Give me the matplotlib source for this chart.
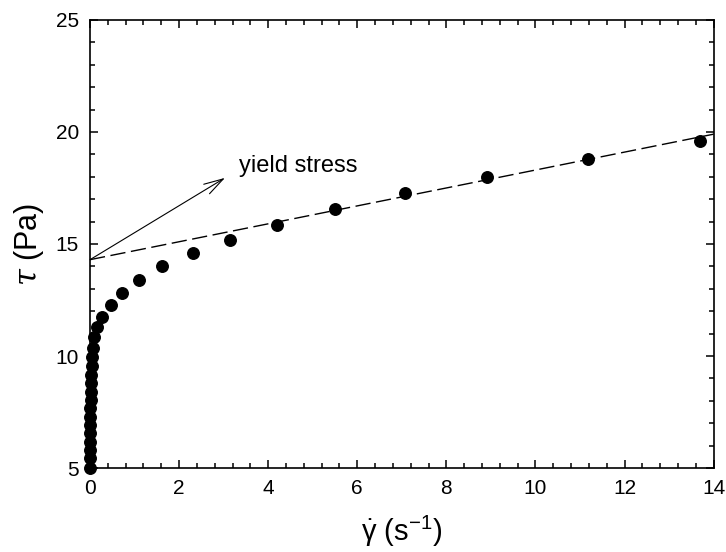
import matplotlib
matplotlib.use('Agg')
import matplotlib.pyplot as plt
from matplotlib.ticker import MultipleLocator
import numpy as np

plt.rcParams['font.family'] = ['Liberation Sans', 'DejaVu Sans']
plt.rcParams['mathtext.fontset'] = 'custom'
plt.rcParams['mathtext.rm'] = 'Liberation Sans'
plt.rcParams['mathtext.it'] = 'DejaVu Serif:italic'

# flow curve: shear rate (1/s) vs shear stress (Pa)
shear_rate = [13.7, 11.17, 8.92, 7.06, 5.51, 4.20, 3.15, 2.31, 1.62, 1.10,
              0.72, 0.47, 0.27, 0.16, 0.09,
              0.06, 0.045, 0.035, 0.028, 0.022, 0.017, 0.013, 0.010,
              0.008, 0.006, 0.005, 0.004, 0.003, 0.002, 0.001]
shear_stress = [19.6, 18.8, 17.99, 17.28, 16.56, 15.85, 15.18, 14.6, 14.02, 13.39,
                12.81, 12.28, 11.74, 11.29, 10.85,
                10.36, 9.96, 9.55, 9.15, 8.79, 8.39, 8.04, 7.68,
                7.28, 6.93, 6.57, 6.16, 5.80, 5.45, 5.0]

# linear (Bingham) fit of the high shear part
yield_stress = 14.3
plastic_visc = 0.40
fit_x = [0, 14]

# arrow tip and label position
arrow_tip = (3.03, 17.95)
label_pos = (3.35, 18.5)

fig = plt.figure(figsize=(7.26, 5.52), dpi=100)
ax = fig.add_axes([0.124, 0.152, 0.859, 0.812])

fit_y = [yield_stress + plastic_visc * x for x in fit_x]
ax.plot(fit_x, fit_y, color='black', lw=1.0, linestyle=(0, (11, 4)))
ax.plot(shear_rate, shear_stress, 'o', color='black', ms=8.3, clip_on=False, zorder=3)

ax.annotate('', xy=arrow_tip, xytext=(0, yield_stress),
            arrowprops=dict(arrowstyle='->,head_length=0.7,head_width=0.2',
                            mutation_scale=20, lw=0.8, color='black',
                            shrinkA=0, shrinkB=0))
ax.text(label_pos[0], label_pos[1], 'yield stress', fontsize=17, va='center')

ax.set_xlim(0, 14)
ax.set_ylim(5, 25)
ax.xaxis.set_major_locator(MultipleLocator(2))
ax.xaxis.set_minor_locator(MultipleLocator(0.4))
ax.yaxis.set_major_locator(MultipleLocator(5))
ax.yaxis.set_minor_locator(MultipleLocator(1))
ax.tick_params(which='both', direction='in', top=True, right=True, labelsize=15, width=1.1)
ax.tick_params(which='major', length=6, pad=8)
ax.tick_params(which='minor', length=3.5)
for s in ax.spines.values():
    s.set_linewidth(1.2)

ax.set_xlabel(r'$\dot{\mathrm{\gamma}}$ (s$^{\mathregular{-1}}$)', fontsize=21, labelpad=11)
ax.set_ylabel(r'$\tau$ (Pa)', fontsize=22, labelpad=7)

fig.savefig('out.png', dpi=100)
